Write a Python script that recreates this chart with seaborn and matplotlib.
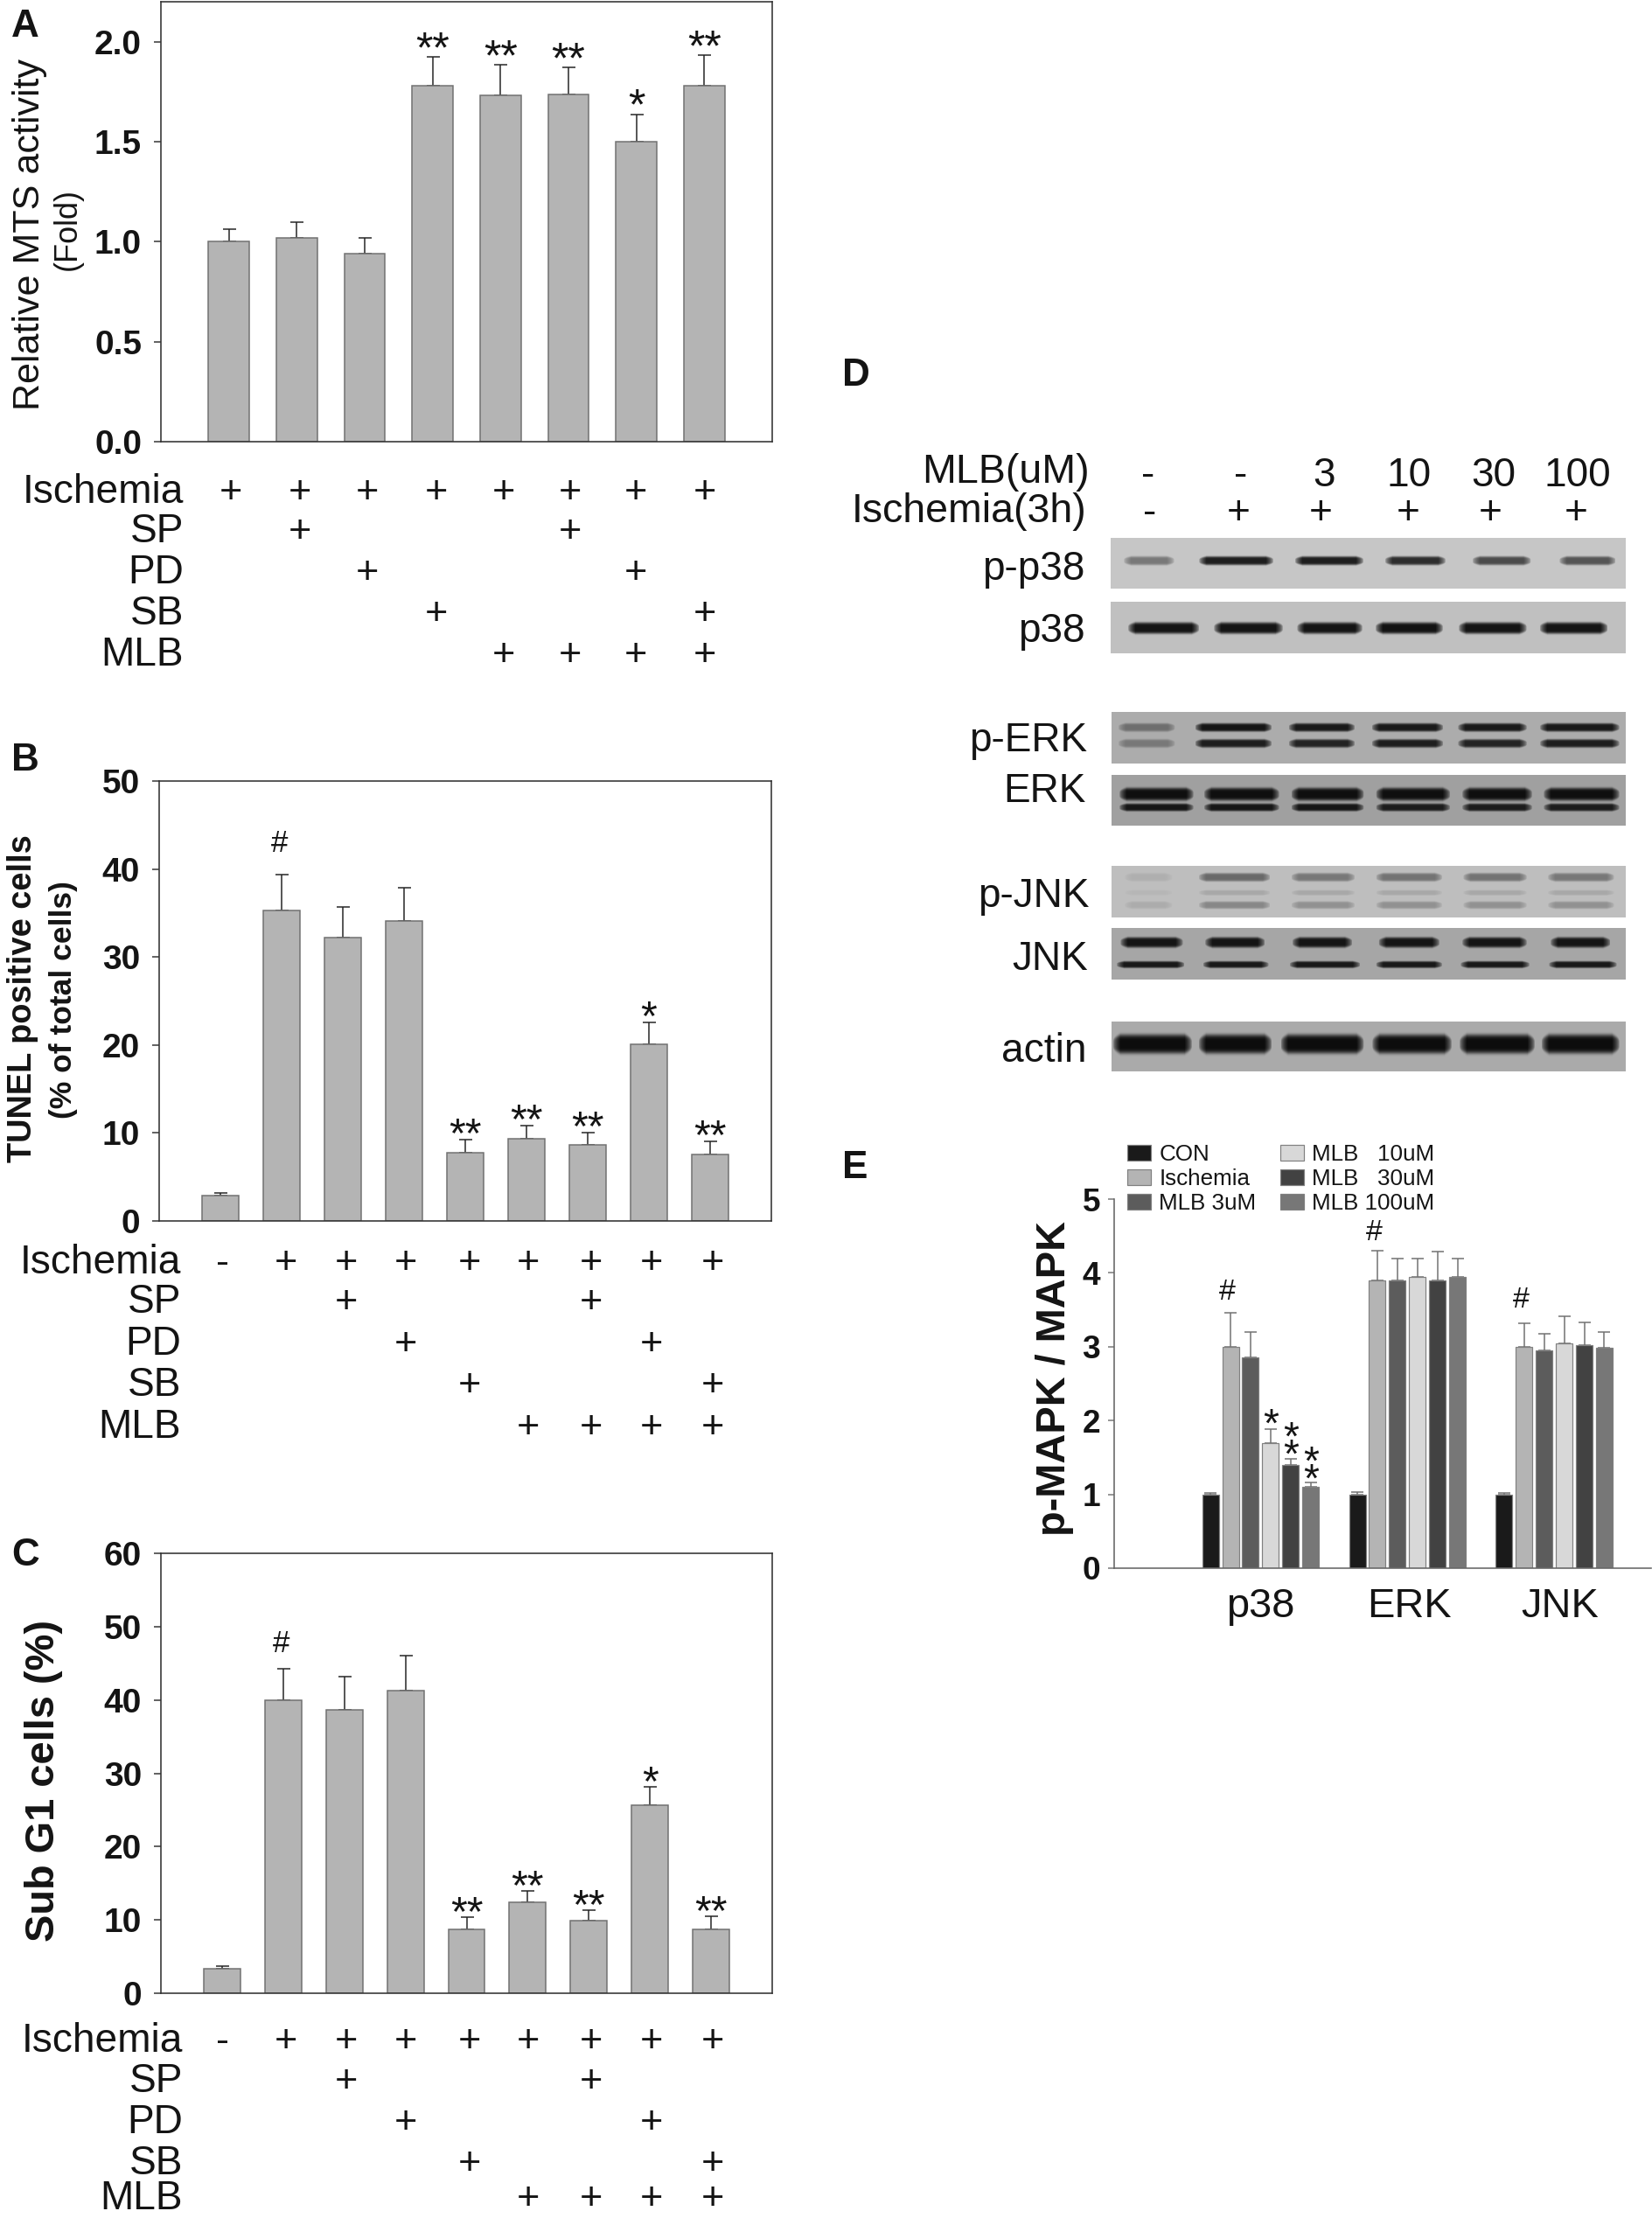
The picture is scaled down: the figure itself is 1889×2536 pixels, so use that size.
import numpy as np
import pandas as pd
import matplotlib
matplotlib.use("Agg")
import matplotlib.pyplot as plt
import seaborn as sns

# ---------- data ----------
A_VALUES = [1.0, 1.017, 0.939, 1.778, 1.73, 1.735, 1.502, 1.78]
A_ERR_TOPS = [1.063, 1.098, 1.02, 1.924, 1.885, 1.87, 1.637, 1.933]
A_MARKS = ["", "", "", "**", "**", "**", "*", "**"]
A_ROWS = {"Ischemia": "++++++++", "SP": " +   +  ", "PD": "  +   + ", "SB": "   +   +", "MLB": "    ++++"}

B_VALUES = [2.84, 35.3, 32.2, 34.1, 7.76, 9.35, 8.67, 20.05, 7.6]
B_ERR_TOPS = [3.2, 39.4, 35.7, 37.9, 9.23, 10.85, 10.04, 22.6, 9.08]
B_MARKS = ["", "#", "", "", "**", "**", "**", "*", "**"]

C_VALUES = [3.29, 40.0, 38.7, 41.3, 8.73, 12.43, 9.86, 25.6, 8.73]
C_ERR_TOPS = [3.65, 44.3, 43.2, 46.0, 10.4, 13.9, 11.3, 28.1, 10.46]
C_MARKS = ["", "#", "", "", "**", "**", "**", "*", "**"]
BC_ROWS = {"Ischemia": "-++++++++", "SP": "  +   +  ", "PD": "   +   + ", "SB": "    +   +", "MLB": "     ++++"}

E_TARGETS = ["p38", "ERK", "JNK"]
E_TREATMENTS = ["CON", "Ischemia", "MLB 3uM", "MLB   10uM", "MLB   30uM", "MLB 100uM"]
E_P38 = [1.0, 3.0, 2.85, 1.7, 1.4, 1.1]
E_P38_TOPS = [1.02, 3.46, 3.2, 1.88, 1.48, 1.16]
E_ERK = [1.0, 3.9, 3.9, 3.95, 3.9, 3.94]
E_ERK_TOPS = [1.03, 4.3, 4.2, 4.2, 4.29, 4.2]
E_JNK = [1.0, 3.0, 2.95, 3.05, 3.02, 2.99]
E_JNK_TOPS = [1.02, 3.32, 3.17, 3.41, 3.33, 3.2]
E_COLORS = ["#1a1a1a", "#b4b4b4", "#5c5c5c", "#d8d8d8", "#424242", "#777777"]

D_MLB_HEAD = ["-", "-", "3", "10", "30", "100"]
D_ISC_HEAD = ["-", "+", "+", "+", "+", "+"]

# western blot band darkness per lane (grey level 0-255), one list per band
BLOT_NAMES = ["p-p38", "p38", "p-ERK", "ERK", "p-JNK", "JNK", "actin"]
BLOT_BG = [198, 192, 172, 160, 190, 166, 170]
P_P38_BAND = [120, 30, 30, 45, 75, 85]
P38_BAND = [20, 20, 20, 18, 20, 20]
P_ERK_UP = [110, 20, 25, 25, 25, 25]
P_ERK_LOW = [120, 30, 35, 30, 35, 30]
ERK_UP = [15, 15, 15, 15, 15, 15]
ERK_LOW = [22, 22, 22, 28, 28, 28]
P_JNK_UP = [175, 105, 120, 115, 115, 120]
P_JNK_MID = [182, 168, 168, 168, 168, 168]
P_JNK_LOW = [172, 135, 145, 145, 145, 145]
JNK_UP = [20, 20, 20, 20, 20, 20]
JNK_LOW = [25, 25, 25, 25, 25, 25]
ACTIN_BAND = [12, 12, 12, 12, 12, 12]

# ---------- layout (pixels in the 1890x2536 image) ----------
W, H = 1890, 2536
DPI = 100
sns.set_theme(style="white")
plt.rcParams["font.family"] = ["Liberation Sans", "DejaVu Sans"]
INK = "#141414"
pt = lambda px: px * 72 / DPI

fig = plt.figure(figsize=(W / DPI, H / DPI), dpi=DPI, facecolor="white")


def axes_px(x0, y0, x1, y1):
    return fig.add_axes([x0 / W, 1 - y1 / H, (x1 - x0) / W, (y1 - y0) / H])


def text_px(x, y, s, size, **kw):
    kw.setdefault("va", "baseline")
    kw.setdefault("ha", "left")
    kw.setdefault("color", INK)
    return fig.text(x / W, 1 - y / H, s, fontsize=pt(size), **kw)


def up_err(ax, xs, vals, tops, color, lw, cap):
    err = np.array(tops) - np.array(vals)
    ax.errorbar(xs, vals, yerr=[np.zeros_like(err), err], fmt="none", ecolor=color,
                elinewidth=pt(lw), capsize=pt(cap), capthick=pt(lw), zorder=1)


def bar_panel(box, values, tops, marks, ylim, yticks, fmt, xlim, tick_px, star_dy, hash_dy, star_size):
    ax = axes_px(*box)
    df = pd.DataFrame({"group": [f"g{i}" for i in range(len(values))], "value": values})
    sns.barplot(data=df, x="group", y="value", color="#b4b4b4", saturation=1, width=0.6,
                errorbar=None, edgecolor="#707070", linewidth=pt(1.5), ax=ax, zorder=2)
    xs = np.arange(len(values))
    up_err(ax, xs, values, tops, "#222222", 1.5, 7.5)
    ax.set_xlim(*xlim)
    ax.set_ylim(*ylim)
    ax.set_xticks([])
    ax.set_xlabel("")
    ax.set_ylabel("")
    ax.set_yticks(yticks)
    ax.set_yticklabels([fmt.format(v) for v in yticks], fontsize=pt(tick_px), fontweight="bold", color=INK)
    ax.tick_params(axis="y", left=True, length=pt(8), width=pt(1.5), color="#333333", pad=pt(14))
    for s in ax.spines.values():
        s.set_visible(True)
        s.set_color("#333333")
        s.set_linewidth(pt(1.6))
    for x, top, m in zip(xs, tops, marks):
        if not m:
            continue
        if m == "#":
            ax.annotate(m, (x - 0.03, top), xytext=(0, pt(hash_dy)), textcoords="offset points",
                        ha="center", va="baseline", fontsize=pt(35), color=INK)
        else:
            ax.annotate(m, (x, top), xytext=(0, pt(star_dy)), textcoords="offset points",
                        ha="center", va="baseline", fontsize=pt(star_size), color=INK)
    return ax


def rows(rows_map, label_right, baselines, xs, size=46, mark_size=45):
    for (name, pattern), base in zip(rows_map.items(), baselines):
        text_px(label_right, base, name, size, ha="right")
        for ch, x in zip(pattern, xs):
            if ch != " ":
                text_px(x, base, ch, mark_size, ha="center")


# Panel A
bar_panel((184, 2, 883, 505), A_VALUES, A_ERR_TOPS, A_MARKS, (0, 2.2), [0, 0.5, 1, 1.5, 2],
          "{:.1f}", (-1, 8), 39, -6, 0, 50)
rows(A_ROWS, 210, [575, 620, 667, 714, 761], [264, 343, 420, 499, 576, 652, 727, 806])
text_px(34, 268, "Relative MTS activity", 43, rotation=90, ha="center", va="center")
text_px(77, 262, "(Fold)", 36, rotation=90, ha="center", va="center")
text_px(13, 42, "A", 44, fontweight="bold")

# Panel B
bar_panel((182, 893, 882, 1396), B_VALUES, B_ERR_TOPS, B_MARKS, (0, 50), [0, 10, 20, 30, 40, 50],
          "{:d}", (-1, 9), 39, -8, 26, 48)
rows(BC_ROWS, 207, [1456, 1501, 1549, 1596, 1644], [255, 327, 396, 464, 537, 604, 676, 745, 815])
text_px(26, 1142, "TUNEL positive cells", 38, rotation=90, ha="center", va="center", fontweight="bold")
text_px(73, 1143, "(% of total cells)", 35.5, rotation=90, ha="center", va="center", fontweight="bold")
text_px(13, 881, "B", 44, fontweight="bold")

# Panel C
bar_panel((184, 1776, 883, 2279), C_VALUES, C_ERR_TOPS, C_MARKS, (0, 60), [0, 10, 20, 30, 40, 50, 60],
          "{:d}", (-1, 9), 39, -9, 19, 48)
rows(BC_ROWS, 209, [2346, 2392, 2439, 2486, 2526], [255, 327, 396, 464, 537, 604, 676, 745, 815])
text_px(50, 2036, "Sub G1 cells (%)", 47, rotation=90, ha="center", va="center", fontweight="bold")
text_px(13, 1790, "C", 44, fontweight="bold")

# Panel D
text_px(963, 441, "D", 44, fontweight="bold")
text_px(1246, 552, "MLB(uM)", 46.5, ha="right")
text_px(1243, 597, "Ischemia(3h)", 46.5, ha="right")
for s, x in zip(D_MLB_HEAD, [1313, 1419, 1514, 1611, 1708, 1804]):
    text_px(x, 556, s, 46, ha="center")
for s, x in zip(D_ISC_HEAD, [1315, 1416, 1510, 1610, 1704, 1802]):
    text_px(x, 599, s, 46, ha="center")

LANES_A = [(25, 120), (167, 307), (348, 477), (518, 632), (683, 793), (847, 953)]
LANES_B = [(33, 167), (195, 325), (352, 475), (500, 627), (657, 785), (810, 938)]
LANES_C = [(13, 120), (158, 303), (335, 460), (492, 627), (655, 785), (810, 960)]
LANES_D = [(15, 155), (175, 317), (340, 477), (500, 640), (663, 795), (817, 960)]
LANES_E = [(25, 115), (165, 300), (340, 460), (500, 625), (665, 785), (825, 950)]
LANES_F = [(17, 135), (177, 290), (342, 455), (505, 620), (663, 785), (830, 943)]
LANES_G = [(10, 138), (173, 297), (337, 470), (500, 625), (660, 790), (827, 955)]
LANES_H = [(3, 152), (165, 303), (320, 477), (493, 643), (658, 800), (813, 960)]

BLOTS = [
    ((1270, 615, 1859, 673), [(LANES_A, .45, .085, P_P38_BAND)]),
    ((1270, 688, 1859, 747), [(LANES_B, .51, .11, P38_BAND)]),
    ((1271, 814, 1859, 873), [(LANES_C, .30, .08, P_ERK_UP), (LANES_C, .61, .08, P_ERK_LOW)]),
    ((1271, 886, 1859, 944), [(LANES_D, .38, .125, ERK_UP), (LANES_D, .64, .075, ERK_LOW)]),
    ((1271, 990, 1859, 1049), [(LANES_E, .22, .08, P_JNK_UP), (LANES_E, .52, .05, P_JNK_MID), (LANES_E, .76, .07, P_JNK_LOW)]),
    ((1271, 1061, 1859, 1120), [(LANES_F, .28, .10, JNK_UP), (LANES_G, .71, .065, JNK_LOW)]),
    ((1271, 1168, 1859, 1225), [(LANES_H, .45, .19, ACTIN_BAND)]),
]
REF_W = 972.0  # lane edges above are measured on a 972-unit wide blot
for (box, bands), bg in zip(BLOTS, BLOT_BG):
    nx, ny = box[2] - box[0], box[3] - box[1]
    yy, xx = np.mgrid[0:ny, 0:nx]
    fy = (yy + .5) / ny
    fx = (xx + .5) / nx * REF_W
    img = np.full((ny, nx), float(bg))
    for lanes, yc, th, dark in bands:
        for (l0, l1), d in zip(lanes, dark):
            edge = np.clip(np.minimum(fx - l0, l1 - fx) / 14.0, 0, 1)
            t = th * (0.35 + 0.65 * np.sqrt(edge))
            prof = np.exp(-np.abs((fy - yc) / t) ** 5)
            img -= np.maximum(img - d, 0) * prof * (edge > 0) * np.sqrt(edge)
    ax = axes_px(*box)
    sns.heatmap(img, cmap="gray", vmin=0, vmax=255, cbar=False, xticklabels=False,
                yticklabels=False, ax=ax, rasterized=True)

for name, right, base in zip(BLOT_NAMES,
                             [1240, 1241, 1243, 1242, 1246, 1244, 1243],
                             [663, 734, 859, 917, 1037, 1109, 1214]):
    text_px(right, base, name, 46, ha="right")

# Panel E
text_px(963, 1347, "E", 44, fontweight="bold")
ax = axes_px(1274, 1371, 1888, 1793)
df_e = pd.DataFrame({
    "target": np.repeat(E_TARGETS, len(E_TREATMENTS)),
    "treatment": E_TREATMENTS * len(E_TARGETS),
    "ratio": E_P38 + E_ERK + E_JNK,
})
sns.barplot(data=df_e, x="target", y="ratio", hue="treatment", order=E_TARGETS, hue_order=E_TREATMENTS,
            palette=dict(zip(E_TREATMENTS, E_COLORS)), saturation=1, width=0.818, gap=0.17,
            errorbar=None, edgecolor="#808080", linewidth=pt(1.2), ax=ax, zorder=2)
handles, labels = ax.get_legend_handles_labels()
ax.legend(handles, labels, ncol=2, loc="upper left", bbox_to_anchor=(1289 / W, 1 - 1308 / H),
          bbox_transform=fig.transFigure, frameon=False, fontsize=pt(26), borderpad=0, borderaxespad=0,
          handlelength=1.04, handleheight=0.66, handletextpad=0.35, columnspacing=1.05, labelspacing=0.16,
          labelcolor=INK)
step = 0.1365
for g, (vals, tops) in enumerate([(E_P38, E_P38_TOPS), (E_ERK, E_ERK_TOPS), (E_JNK, E_JNK_TOPS)]):
    xs = g + (np.arange(6) - 2.5) * step
    up_err(ax, xs, vals, tops, "#707070", 1.5, 7)
ax.set_xlim(-0.997, 2.66)
ax.set_ylim(0, 5)
ax.set_xlabel("")
ax.set_ylabel("")
ax.set_yticks(range(6))
ax.set_yticklabels([str(v) for v in range(6)], fontsize=pt(37), fontweight="bold", color=INK)
ax.set_xticks([0, 1.01, 2.04])
ax.set_xticklabels(E_TARGETS, fontsize=pt(47), color=INK)
ax.tick_params(axis="y", left=True, length=pt(7), width=pt(1.5), color="#777777", pad=pt(9))
ax.tick_params(axis="x", bottom=False, pad=pt(14))
sns.despine(ax=ax)
for s in ["left", "bottom"]:
    ax.spines[s].set_color("#666666")
    ax.spines[s].set_linewidth(pt(1.6))
# significance marks of panel E: (target, treatment index, top, offset px, mark, size)
for g, i, top, dy, m, size in [
    (0, 1, E_P38_TOPS[1], 15, "#", 34), (1, 1, E_ERK_TOPS[1], 12, "#", 34), (2, 1, E_JNK_TOPS[1], 18, "#", 34),
    (0, 3, E_P38_TOPS[3], -8, "*", 46),
    (0, 4, E_P38_TOPS[4], -10, "*\n*", 46),
    (0, 5, E_P38_TOPS[5], -11, "*\n*", 46),
]:
    off = -0.02 if m == "#" else 0
    ax.annotate(m, (g + (i - 2.5) * step + off, top), xytext=(0, pt(dy)), textcoords="offset points",
                ha="center", va="baseline", fontsize=pt(size), color=INK, linespacing=0.3)
text_px(1206, 1576, "p-MAPK / MAPK", 47, rotation=90, ha="center", va="center", fontweight="bold")

fig.savefig("out.png", dpi=DPI, facecolor="white")
